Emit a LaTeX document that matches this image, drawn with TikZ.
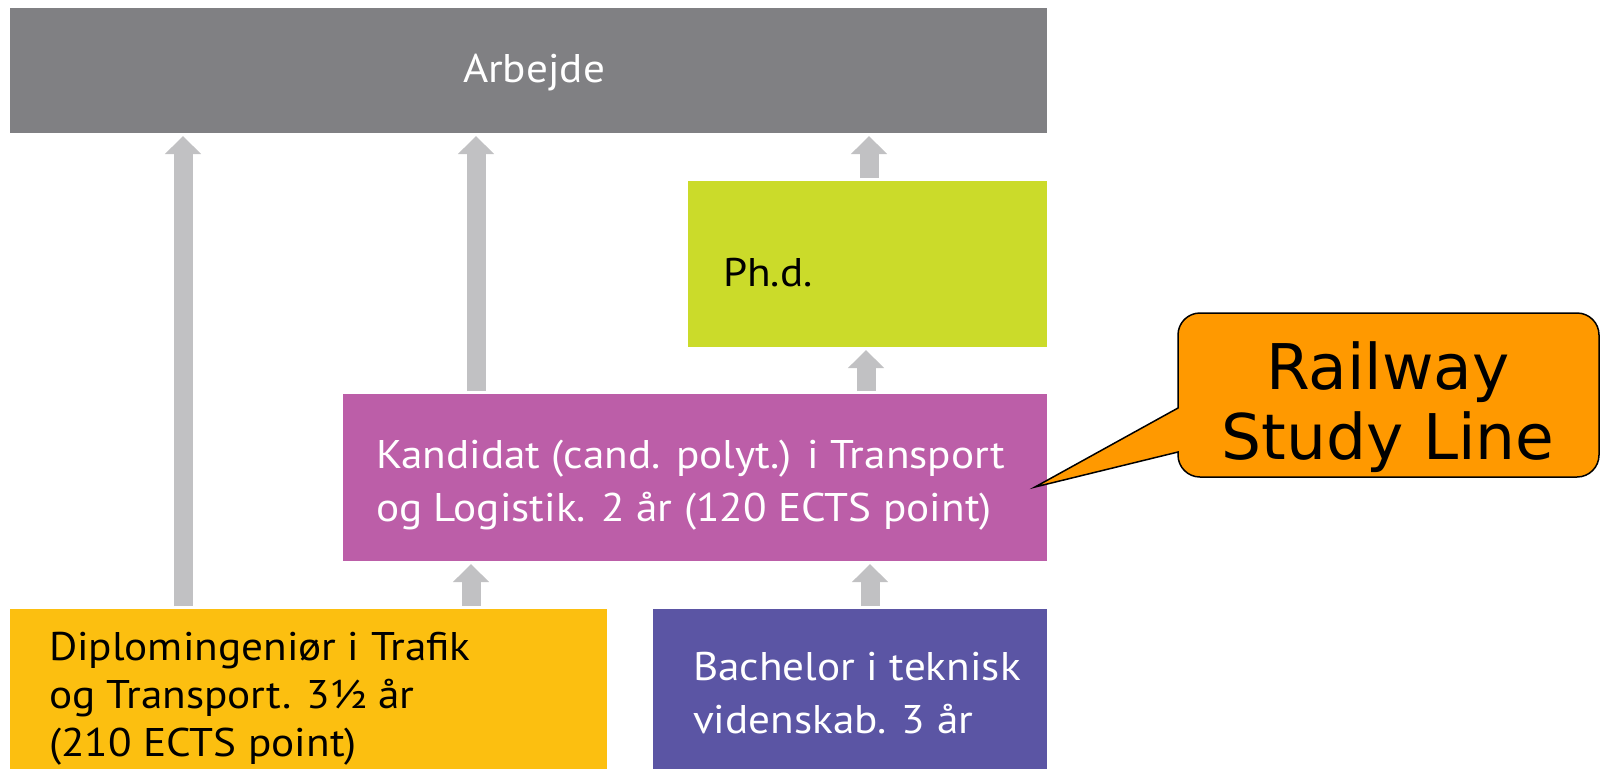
\documentclass[tikz,border=0pt]{standalone}
\usepackage{fontspec}
\setmainfont{PT Sans}[FakeStretch=1.08]
\newfontfamily\callfont{DejaVu Sans}
\usetikzlibrary{arrows.meta}
\definecolor{cArb}{RGB}{128,128,131}
\definecolor{cArrow}{RGB}{193,193,195}
\definecolor{cGreen}{RGB}{203,219,42}
\definecolor{cMag}{RGB}{188,94,168}
\definecolor{cYel}{RGB}{252,191,16}
\definecolor{cBlue}{RGB}{91,85,164}
\definecolor{cOrange}{RGB}{255,153,0}
\tikzset{
  box/.style={draw=none, inner sep=0pt, outer sep=0pt},
  lbl/.style={inner sep=0pt, outer sep=0pt, anchor=base west, align=left, font=\fontsize{40}{48}\selectfont},
  uparrow/.style={draw=cArrow, line width=19pt, shorten <=3pt, shorten >=3pt,
    -{Triangle[width=35pt, length=18pt]}},
}
\begin{document}
\begin{tikzpicture}[x=1pt, y=-1pt]
\useasboundingbox (0,0) rectangle (1602,769);
% boxes
\node[box, fill=cArb, minimum width=1037pt, minimum height=125pt] (arb) at (528.5,70.5) {};
\node[box, fill=cGreen, minimum width=359pt, minimum height=166pt] (phd) at (867.5,264) {};
\node[box, fill=cMag, minimum width=704pt, minimum height=167pt] (kand) at (695,477.5) {};
\node[box, fill=cYel, minimum width=597pt, minimum height=160pt] (dipl) at (308.5,689) {};
\node[box, fill=cBlue, minimum width=394pt, minimum height=160pt] (bach) at (850,689) {};
% texts (base = last line)
\node[lbl, anchor=base, text=white] (tArb) at (534,82) {Arbejde};
\node[lbl] (tPhd) at (723,286) {Ph.d.};
\node[lbl, text=white, font=\fontsize{40}{53}\selectfont] (tKand) at (376,521) {Kandidat (cand. polyt.) i Transport\\og Logistik. 2 år (120 ECTS point)};
\node[lbl] (tDipl) at (49,756) {Diplomingeniør i Trafik\\og Transport. 3½ år\\(210 ECTS point)};
\node[lbl, text=white, font=\fontsize{40}{53}\selectfont] (tBach) at (693,733) {Bachelor i teknisk\\videnskab. 3 år};
% arrows
\draw[uparrow] (183,0 |- dipl.north) -- (183,0 |- arb.south);
\draw[uparrow] (476,0 |- kand.north) -- (476,0 |- arb.south);
\draw[uparrow] (869,0 |- phd.north) -- (869,0 |- arb.south);
\draw[uparrow] (866,0 |- kand.north) -- (866,0 |- phd.south);
\draw[uparrow] (471,0 |- dipl.north) -- (471,0 |- kand.south);
\draw[uparrow] (870,0 |- bach.north) -- (870,0 |- kand.south);
% callout
\coordinate (tip) at (1035,487);
\path[draw=black, line width=1.5pt, fill=cOrange]
  (1178,452) [rounded corners=22pt] -- (1178,477) -- (1599,477) -- (1599,313) -- (1178,313) [sharp corners] -- (1178,408) -- (tip) -- cycle;
\node[inner sep=0pt, align=center, anchor=base, font=\callfont\fontsize{63}{70}\selectfont] (tCall) at (1388,459) {Railway\\Study Line};
\end{tikzpicture}
\end{document}
